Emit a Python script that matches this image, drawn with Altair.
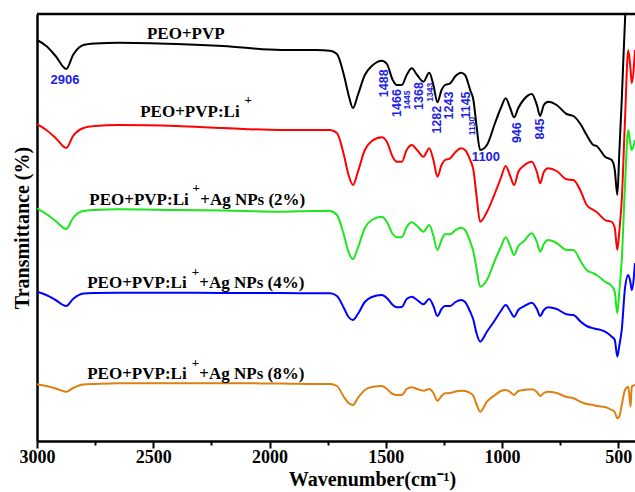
import altair as alt
import pandas as pd

# ---- data (wavenumber in cm^-1, transmittance in arbitrary offset units)
wavenumber = [3000, 2960, 2920, 2874, 2845, 2800, 2750, 2650, 2400, 2200,
              1950, 1800, 1740, 1710, 1680, 1660, 1641, 1620, 1590, 1560,
              1517, 1495, 1470, 1452, 1431, 1410, 1388, 1365, 1338, 1313,
              1295, 1278, 1260, 1245, 1223, 1200, 1176, 1159, 1137, 1123,
              1110, 1094, 1065, 1030, 1005, 984, 965, 948, 930, 908,
              872, 850, 836, 820, 801, 765, 722, 693, 660, 636,
              607, 593, 557, 528, 515, 504, 495, 485, 471, 457,
              447, 442, 428]

peo_pvp = [401, 395, 385, 372, 386, 396, 397.5, 398.3, 397, 395,
           391, 391, 390.3, 387, 366, 346, 333, 346, 366, 375,
           380.3, 377, 361, 356, 356, 366, 372.7, 366, 359.3, 368.3,
           356, 338.7, 351, 356, 357.7, 365, 368.3, 366, 351, 341,
           316, 291, 296, 318, 333, 342.7, 333, 323.7, 333, 341,
           347, 336, 325, 336, 339.3, 336, 327, 325, 316, 306,
           296, 295, 284.3, 281, 271, 246, 291, 341, 421, 471,
           471, 471, 471]

peo_pvp_li = [317, 311, 303, 293, 305, 313, 315, 316, 315, 313,
              311, 311, 311, 308, 286, 266, 256, 269, 291, 300,
              303.7, 299, 284, 279.3, 279.3, 291, 296, 291, 284.3, 292.7,
              281, 264.3, 276, 281, 282.7, 289, 292.7, 291, 281, 271,
              246, 219.3, 229, 248, 263, 275, 265, 256, 269, 275,
              279.3, 269, 257.7, 269, 272.7, 270, 261.7, 261, 249, 236,
              231, 229, 221, 219, 213, 191, 211, 241, 321, 391,
              371, 358, 391]

ag_2 = [232.7, 227, 220, 212, 223, 230, 231, 231.7, 231, 230.5,
        229.3, 230, 230, 226, 206, 189, 182, 193, 213, 221,
        224.3, 219, 207, 203.7, 203.7, 214, 218.7, 215, 209.3, 216,
        205, 191, 201, 206.7, 206.7, 211, 213.3, 211, 199.3, 189.3,
        173, 154.3, 161, 181, 194, 203.7, 195, 186, 195, 199.3,
        207.7, 199, 189.3, 197, 201, 198, 191, 191, 179, 171,
        167.7, 166, 159.3, 155, 149, 127.7, 151, 181, 256, 311,
        296, 291, 301]

ag_4 = [149.3, 146, 141, 135, 142, 147.5, 148, 148.3, 148.3, 148,
        148, 147.7, 147.7, 145, 133, 124, 121, 127, 139, 144,
        146, 143, 136, 133.7, 134, 142, 144.3, 141, 136.7, 142,
        135, 125, 132, 135, 135, 139, 141, 139, 129.3, 121,
        108, 99.3, 109.3, 121, 130, 136, 130, 124.3, 131, 134.3,
        138.3, 132, 125, 131, 133.7, 132, 126.7, 126, 119, 115,
        112.7, 112, 109.3, 104.3, 101, 84.3, 96, 111, 153, 166,
        158, 151, 178]

ag_8 = [56.7, 55, 52.5, 49.3, 53, 56.5, 57, 57.7, 57.7, 57.7,
        57.5, 57, 57, 55, 44, 38, 36, 43, 51, 54,
        55, 52, 47, 46, 46, 52, 53.7, 52, 50.3, 52,
        48, 40.3, 45, 47.7, 48, 49.5, 50.3, 50, 48, 45,
        37, 29.3, 39.3, 46, 50, 51, 49, 46, 50, 51,
        51.7, 49, 45, 48, 49.3, 48, 44, 42.7, 39, 37,
        36, 35, 34, 31, 29, 22.7, 25, 36, 51, 54.3,
        34.3, 54.3, 56]

series_names = ["PEO+PVP", "PEO+PVP:Li+", "Ag NPs 2%", "Ag NPs 4%", "Ag NPs 8%"]
series_values = [peo_pvp, peo_pvp_li, ag_2, ag_4, ag_8]
series_colors = ["#000000", "#ff0000", "#1ee61e", "#0000ff", "#dd8011"]

tick_values = [3000, 2750, 2500, 2250, 2000, 1750, 1500, 1250, 1000, 750, 500]

# curve labels
label_text = ["PEO+PVP", "PEO+PVP:Li", "PEO+PVP:Li", "+Ag NPs (2%)",
              "PEO+PVP:Li", "+Ag NPs (4%)", "PEO+PVP:Li", "+Ag NPs (8%)"]
label_wn = [2527, 2556, 2775, 2298, 2784, 2302, 2784, 2302]
label_t = [407, 329, 241, 241, 158.3, 158.3, 67, 67]

sup_text = ["+", "+", "+", "+"]
sup_wn = [2092, 2315, 2319, 2319]
sup_t = [341, 253, 169.3, 78.3]

# peak annotations
peak_text = ["2906", "1100", "1488", "1466", "1445", "1368", "1343", "1282",
             "1243", "1145", "1130", "946", "845"]
peak_wn = [2880, 1069, 1506, 1452, 1407, 1359, 1309, 1280, 1226, 1154, 1130, 934, 836]
peak_t = [361, 284.3, 357.7, 338, 341, 345, 348.7, 321.3, 335.5, 336, 315, 308.3, 312]
peak_angle = [0, 0, 270, 270, 270, 270, 270, 270, 270, 270, 270, 270, 270]
peak_size = [13, 13, 12.5, 12.5, 8.5, 12.5, 8.5, 12.5, 12.5, 12.5, 8.5, 12.5, 12.5]

# ---- build tables
rows = []
for name, vals in zip(series_names, series_values):
    for w, t in zip(wavenumber, vals):
        rows.append({"series": name, "wn": w, "T": t})
df = pd.DataFrame(rows)

labels_df = pd.DataFrame({"wn": label_wn, "T": label_t, "text": label_text})
sup_df = pd.DataFrame({"wn": sup_wn, "T": sup_t, "text": sup_text})
peaks_df = pd.DataFrame({"wn": peak_wn, "T": peak_t, "text": peak_text,
                         "angle": peak_angle, "size": peak_size})

W, H = 598, 427
x_scale = alt.Scale(domain=[3000, 428], nice=False, zero=False)
y_scale = alt.Scale(domain=[0, 427], nice=False, zero=False)

serif = "Liberation Serif"
sans = "Liberation Sans"

x_axis = alt.Axis(
    values=tick_values, format="d",
    labelExpr="datum.value % 500 === 0 ? datum.label : ''",
    tickSize={"condition": {"test": "datum.value % 500 === 0", "value": 7}, "value": 4},
    tickColor="black", tickWidth=2, domainColor="black", domainWidth=2.5,
    labelFont=serif, labelFontSize=18, labelFontWeight="bold", labelColor="black",
    labelPadding=0, labelFlush=False, labelOverlap=False, grid=False,
    title="Wavenumber(cm\u207b\u00b9)", titleFont=serif, titleFontSize=20,
    titleFontWeight="bold", titleColor="black", titleX=335, titleY=38,
    titleBaseline="middle",
)
y_axis = alt.Axis(
    ticks=False, labels=False, grid=False, domainColor="black", domainWidth=2.5,
    title="Transmittance (%)", titleFont=serif, titleFontSize=20,
    titleFontWeight="bold", titleColor="black", titlePadding=5,
)

lines = alt.Chart(df).mark_line(strokeWidth=2, clip=True, interpolate="monotone").encode(
    x=alt.X("wn:Q", scale=x_scale, axis=x_axis),
    y=alt.Y("T:Q", scale=y_scale, axis=y_axis),
    color=alt.Color("series:N", scale=alt.Scale(domain=series_names, range=series_colors), legend=None),
    order=alt.Order("wn:Q", sort="descending"),
)

top_border = alt.Chart(pd.DataFrame({"a": [0]})).mark_rule(color="black", strokeWidth=2.5).encode(
    x=alt.value(0), x2=alt.value(W), y=alt.value(0)
)

curve_labels = alt.Chart(labels_df).mark_text(
    font=serif, fontSize=17, fontWeight="bold", color="black", align="left", baseline="middle"
).encode(x="wn:Q", y="T:Q", text="text:N")

sup_labels = alt.Chart(sup_df).mark_text(
    font=serif, fontSize=13, fontWeight="bold", color="black", align="center", baseline="middle"
).encode(x="wn:Q", y="T:Q", text="text:N")

peak_labels = alt.Chart(peaks_df).mark_text(
    font=sans, fontWeight="bold", color="#2020e6", align="center", baseline="middle"
).encode(
    x="wn:Q", y="T:Q", text="text:N",
    angle=alt.Angle("angle:Q", scale=None),
    size=alt.Size("size:Q", scale=None),
)

chart = alt.layer(lines, top_border, curve_labels, sup_labels, peak_labels).properties(
    width=W, height=H,
    padding={"left": 37, "top": 14, "right": 0, "bottom": 51},
    autosize=alt.AutoSizeParams(type="none"),
    background="white",
).configure_view(stroke=None)

chart.save("out.html", embed_options={"renderer": "svg", "actions": False})
